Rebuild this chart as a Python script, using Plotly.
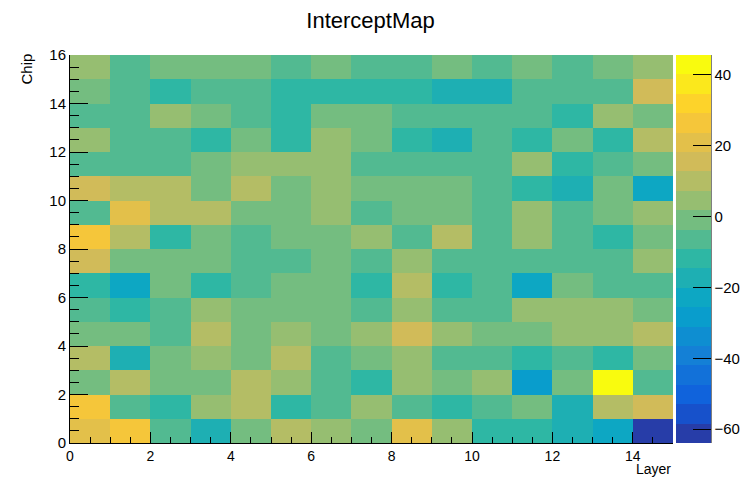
import numpy as np
import plotly.graph_objects as go

# ---- data ----
layers = list(range(16))   # bin edges along x (15 layers)
chips = list(range(17))    # bin edges along y (16 chips)
x_ticks = [0, 2, 4, 6, 8, 10, 12, 14]
y_ticks = [0, 2, 4, 6, 8, 10, 12, 14, 16]
cbar_ticks = [40, 20, 0, -20, -40, -60]

row0 = [21.3, 26.8, -6.1, -17.2, -0.7, 9.6, 4.9, -1.2, 20.6, 4.1, -12.3, -11.6, -17.7, -22.5, -63.9]
row1 = [26.1, -6.6, -11.5, 4.3, 10.4, -12.1, -5.9, 5.0, -6.8, -11.7, -6.2, -0.5, -17.0, 9.8, 15.2]
row2 = [-1.3, 10.2, -0.8, -1.5, 9.9, 4.0, -6.5, -12.0, 4.7, -0.4, 5.1, -28.1, -1.1, 45.6, -6.0]
row3 = [10.5, -17.6, -0.6, 4.4, -1.4, 10.1, -6.9, -0.9, 3.9, -6.3, -5.8, -11.4, -6.7, -12.2, -1.0]
row4 = [-1.1, -0.7, -6.4, 9.7, -1.3, 4.6, -0.2, 4.8, 15.8, 4.2, -1.5, -0.8, 5.3, 3.7, 10.3]
row5 = [-6.2, -12.4, -5.7, 4.9, -0.6, -1.2, -0.9, -6.6, 4.1, -6.0, -6.8, 4.4, 5.0, 4.3, -0.4]
row6 = [-11.3, -22.9, -1.0, -12.1, -6.5, -0.3, -1.4, -11.8, 10.6, -12.0, -6.1, -23.2, -0.8, -5.9, -6.7]
row7 = [15.0, -0.9, -1.3, -0.5, -6.0, -6.8, -1.1, -6.3, 4.6, -5.8, -6.4, -6.9, -6.2, -5.6, 3.9]
row8 = [26.9, 9.5, -11.6, -1.2, -6.6, -0.7, -0.4, 4.2, -6.1, 10.7, -6.5, 5.2, -5.9, -12.3, -0.6]
row9 = [-6.3, 21.4, 10.3, 9.8, -0.8, -1.5, 4.7, -6.0, -0.3, -1.0, -6.7, 4.0, -6.2, -0.9, 4.5]
row10 = [15.7, 10.0, 9.4, -1.1, 10.8, -0.6, 3.8, -1.4, -0.5, -1.2, -6.4, -11.9, -17.3, -0.7, -22.4]
row11 = [-6.8, -5.7, -6.3, -0.9, 4.4, 5.1, 3.9, -6.1, -6.6, -5.9, -6.2, 4.8, -12.0, -6.5, -1.3]
row12 = [4.3, -6.0, -6.7, -11.5, -0.4, -12.2, 4.9, -1.0, -11.8, -17.5, -6.3, -11.3, -0.8, -12.4, 10.2]
row13 = [-6.5, -6.1, 4.6, -1.2, -5.8, -11.7, -0.6, -1.5, -6.9, -6.2, -6.4, -5.7, -12.1, 4.1, -0.9]
row14 = [-0.5, -6.3, -11.9, -6.6, -5.9, -12.3, -11.4, -11.8, -12.0, -17.1, -17.8, -6.0, -6.8, -6.2, 15.4]
row15 = [4.8, -6.4, -1.1, -0.7, -1.4, -6.1, -0.3, -6.7, -5.8, -1.0, -6.5, -0.8, -6.2, -1.2, 4.2]

z = [row0, row1, row2, row3, row4, row5, row6, row7, row8, row9,
     row10, row11, row12, row13, row14, row15]

# ---- ROOT kBird palette, 20 contour levels ----
stops = np.array([0.0, 0.125, 0.25, 0.375, 0.5, 0.625, 0.75, 0.875, 1.0])
red = np.array([0.2082, 0.0592, 0.0780, 0.0232, 0.1802, 0.5301, 0.8186, 0.9956, 0.9764])
green = np.array([0.1664, 0.3599, 0.5041, 0.6419, 0.7178, 0.7492, 0.7328, 0.7862, 0.9832])
blue = np.array([0.5293, 0.8684, 0.8385, 0.7914, 0.6425, 0.4662, 0.3499, 0.1968, 0.0539])
ndiv = 20
ncol = 255
colorscale = []
for i in range(ndiv):
    idx = int((i + 0.99) * ncol / ndiv)
    t = idx / (ncol - 1)
    r = np.interp(t, stops, red)
    g = np.interp(t, stops, green)
    b = np.interp(t, stops, blue)
    c = "rgb(%d,%d,%d)" % (round(r * 255), round(g * 255), round(b * 255))
    colorscale.append([i / ndiv, c])
    colorscale.append([(i + 1) / ndiv, c])

zflat = [v for row in z for v in row]
zmin, zmax = min(zflat), max(zflat)

W, H = 741, 477
L, R, T, B = 70, 68, 55, 34
pw = W - L - R
ph = H - T - B
font = "Liberation Sans, Arial, Helvetica, sans-serif"

fig = go.Figure(go.Heatmap(
    x=layers, y=chips, z=z,
    colorscale=colorscale, zmin=zmin, zmax=zmax,
    colorbar=dict(
        x=1 + 3 / pw, xanchor="left", y=0.5, yanchor="middle",
        len=1, lenmode="fraction", thickness=35, thicknessmode="pixels",
        xpad=0, ypad=0, outlinewidth=0,
        tickmode="array", tickvals=cbar_ticks,
        ticks="inside", ticklen=18, tickcolor="black", tickwidth=1,
        tickfont=dict(family=font, size=15, color="black"),
    ),
    hoverongaps=False,
))

fig.update_layout(
    width=W, height=H,
    margin=dict(l=L, r=R, t=T, b=B, pad=0, autoexpand=False),
    paper_bgcolor="white", plot_bgcolor="white",
    title=dict(text="InterceptMap", x=0.5, xref="container",
               y=1 - 20 / H, yref="container", xanchor="center", yanchor="middle",
               font=dict(family=font, size=22, color="black")),
    xaxis=dict(range=[0, 15], tickmode="array", tickvals=x_ticks,
               ticks="inside", ticklen=11, tickcolor="black", showgrid=False, zeroline=False,
               showline=True, linecolor="black", linewidth=1,
               minor=dict(ticks="inside", ticklen=6, dtick=0.5, tick0=0, tickcolor="black", showgrid=False),
               tickfont=dict(family=font, size=14, color="black")),
    yaxis=dict(range=[0, 16], tickmode="array", tickvals=y_ticks,
               ticks="inside", ticklen=18, tickcolor="black", showgrid=False, zeroline=False,
               showline=True, linecolor="black", linewidth=1,
               minor=dict(ticks="inside", ticklen=9, dtick=0.5, tick0=0, tickcolor="black", showgrid=False),
               tickfont=dict(family=font, size=15, color="black")),
    annotations=[
        dict(text="Layer", xref="paper", yref="paper", x=1, y=-25.5 / ph,
             xanchor="right", yanchor="middle", showarrow=False,
             font=dict(family=font, size=14, color="black")),
        dict(text="Chip", xref="paper", yref="paper", x=-44 / pw, y=1 + 3 / ph,
             xanchor="center", yanchor="top", textangle=-90, showarrow=False,
             font=dict(family=font, size=15, color="black")),
    ],
    shapes=[
        dict(type="line", xref="paper", yref="paper",
             x0=1 + 38 / pw, x1=1 + 38 / pw, y0=0, y1=1,
             line=dict(color="black", width=1)),
    ],
)

fig.write_html("out.html")
